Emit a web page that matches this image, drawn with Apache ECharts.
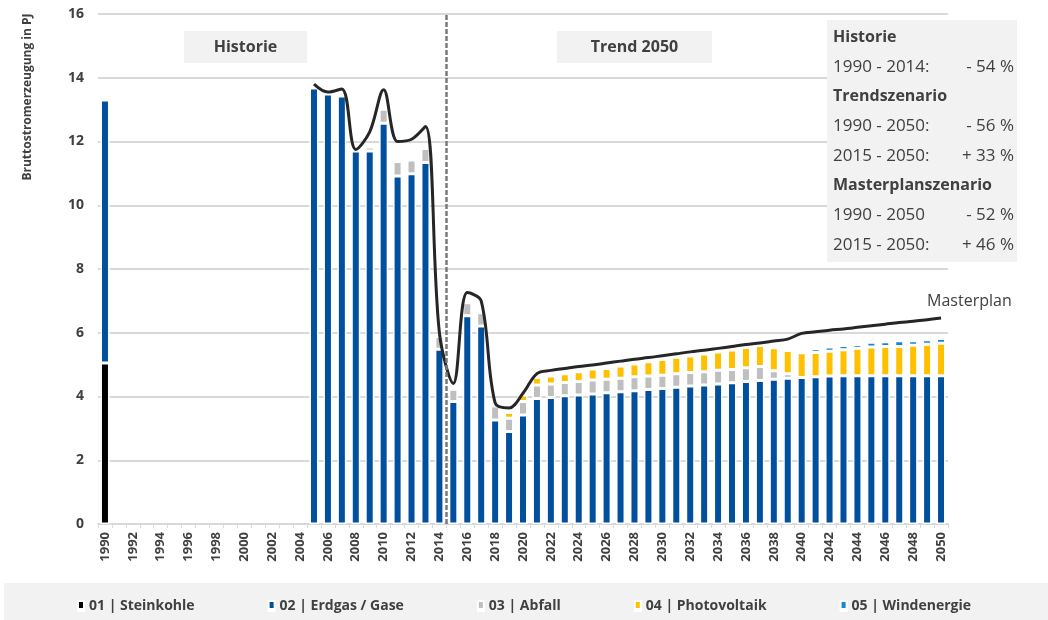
<!DOCTYPE html>
<html>
<head>
<meta charset="utf-8">
<script src="https://cdn.jsdelivr.net/npm/echarts@6/dist/echarts.min.js"></script>
<style>
  html, body { margin: 0; padding: 0; background: #fff; }
  #chart { width: 1048px; height: 620px; }
</style>
</head>
<body>
<div id="chart"></div>
<script>
// Jahre 1990 - 2050
const years = [
  '1990','1991','1992','1993','1994','1995','1996','1997','1998','1999',
  '2000','2001','2002','2003','2004','2005','2006','2007','2008','2009',
  '2010','2011','2012','2013','2014','2015','2016','2017','2018','2019',
  '2020','2021','2022','2023','2024','2025','2026','2027','2028','2029',
  '2030','2031','2032','2033','2034','2035','2036','2037','2038','2039',
  '2040','2041','2042','2043','2044','2045','2046','2047','2048','2049',
  '2050'
]
const _ = null
// Bruttostromerzeugung in PJ
const steinkohle = [5.05, _,_,_,_,_,_,_,_,_,_,_,_,_,_,
  _,_,_,_,_,_,_,_,_,_, _,_,_,_,_,_,_,_,_,_,_,_,_,_,_,_,_,_,_,_,_,_,_,_,_,_,_,_,_,_,_,_,_,_,_,_]
const erdgas = [8.25, _,_,_,_,_,_,_,_,_,_,_,_,_,_,
  13.68, 13.49, 13.43, 11.70, 11.70, 12.57, 10.92, 10.99, 11.34, 5.48,
  3.84, 6.53, 6.21, 3.26, 2.90, 3.42, 3.94, 3.97, 4.02, 4.05,
  4.08, 4.12, 4.15, 4.18, 4.22, 4.25, 4.29, 4.33, 4.36, 4.39,
  4.43, 4.47, 4.50, 4.54, 4.57, 4.60, 4.62, 4.64, 4.65, 4.65,
  4.65, 4.65, 4.65, 4.65, 4.65, 4.65]
const abfall = [_, _,_,_,_,_,_,_,_,_,_,_,_,_,_,
  _, _, _, _, 0.13, 0.44, 0.45, 0.43, 0.44, 0.40,
  0.39, 0.41, 0.42, 0.44, 0.42, 0.42, 0.42, 0.42, 0.42, 0.42,
  0.44, 0.42, 0.42, 0.44, 0.42, 0.42, 0.42, 0.42, 0.42, 0.43,
  0.42, 0.43, 0.44, 0.27, 0.14, _, _, _, _, _,
  _, _, _, _, _, _]
const photovoltaik = [_, _,_,_,_,_,_,_,_,_,_,_,_,_,_,
  _, _, _, _, _, _, _, _, _, _,
  _, 0.06, 0.07, 0.10, 0.18, 0.21, 0.24, 0.25, 0.27, 0.31,
  0.34, 0.34, 0.39, 0.40, 0.45, 0.49, 0.52, 0.52, 0.55, 0.58,
  0.61, 0.64, 0.66, 0.72, 0.73, 0.77, 0.76, 0.78, 0.82, 0.86,
  0.90, 0.92, 0.92, 0.96, 0.99, 1.02]
const windenergie = [_, _,_,_,_,_,_,_,_,_,_,_,_,_,_,
  _, _, _, _, _, _, _, _, _, _,
  _, _, _, 0.05, 0.08, _, _, _, _, _,
  _, _, _, _, _, _, _, _, _, _,
  _, _, _, 0.06, 0.08, 0.10, 0.12, 0.13, 0.13, 0.12,
  0.15, 0.15, 0.18, 0.14, 0.14, 0.15]
const masterplan = [_, _,_,_,_,_,_,_,_,_,_,_,_,_,_,
  13.80, 13.55, 13.65, 11.75, 12.30, 13.62, 12.00, 12.07, 12.47, 6.00,
  4.41, 7.26, 7.00, 3.80, 3.64, 4.10, 4.72, 4.82, 4.88, 4.94,
  4.99, 5.05, 5.11, 5.17, 5.22, 5.28, 5.34, 5.40, 5.45, 5.51,
  5.57, 5.63, 5.68, 5.74, 5.80, 5.98, 6.03, 6.08, 6.12, 6.17,
  6.22, 6.27, 6.32, 6.36, 6.41, 6.46]
const yTicks = [0, 16, 2]   // min, max, interval
const splitIndex = 24.5     // Grenze Historie / Trend (zwischen 2014 und 2015)

const textColor = '#404040'
const font = "'Open Sans', 'Noto Sans', sans-serif"

const colors = {
  steinkohle: '#000000',
  erdgas: '#00509e',
  abfall: '#bfbfbf',
  photovoltaik: '#ffc000',
  windenergie: '#1487d0'
}

const chart = echarts.init(document.getElementById('chart'))

function barSeries(name, data, color) {
  return {
    name: name,
    type: 'bar',
    stack: 'total',
    barWidth: 9,
    data: data,
    itemStyle: { color: color, borderColor: '#fff', borderWidth: 1.5 },
    emphasis: { disabled: true }
  }
}

// Textkasten rechts oben
const infoRows = [
  ['Historie', '', true],
  ['1990 - 2014:', '- 54 %', false],
  ['Trendszenario', '', true],
  ['1990 - 2050:', '- 56 %', false],
  ['2015 - 2050:', '+ 33 %', false],
  ['Masterplanszenario', '', true],
  ['1990 - 2050', '- 52 %', false],
  ['2015 - 2050:', '+ 46 %', false]
]
const infoTexts = []
infoRows.forEach((r, i) => {
  const y = 37 + i * 29.7
  infoTexts.push({
    type: 'text', x: 833, y: y, z: 20,
    style: { text: r[0], fill: textColor, font: (r[2] ? 'bold 16px ' : '17px ') + font, align: 'left', verticalAlign: 'middle' }
  })
  if (r[1]) {
    infoTexts.push({
      type: 'text', x: 1014, y: y, z: 20,
      style: { text: r[1], fill: textColor, font: '17px ' + font, align: 'right', verticalAlign: 'middle' }
    })
  }
})

chart.setOption({
  animation: false,
  grid: { left: 98, right: 100, top: 14, bottom: 96 },
  legend: {
    data: ['01 | Steinkohle', '02 | Erdgas / Gase', '03 | Abfall', '04 | Photovoltaik', '05 | Windenergie'],
    top: 594,
    left: 'center',
    itemGap: 73,
    itemWidth: 6,
    itemHeight: 10,
    icon: 'path://M0,0H6V8H0Z M0,9H6V10H0Z',
    textStyle: { color: textColor, fontWeight: 'bold', fontSize: 14, fontFamily: font }
  },
  graphic: [
    { type: 'rect', shape: { x: 4, y: 583, width: 1044, height: 37 }, style: { fill: '#f2f2f2' }, z: -10 },
    { type: 'rect', shape: { x: 184, y: 31, width: 123, height: 32 }, style: { fill: '#f2f2f2' }, z: -1 },
    { type: 'text', x: 245.5, y: 47, style: { text: 'Historie', fill: textColor, font: 'bold 16px ' + font, align: 'center', verticalAlign: 'middle' }, z: 10 },
    { type: 'rect', shape: { x: 557, y: 31, width: 155, height: 32 }, style: { fill: '#f2f2f2' }, z: -1 },
    { type: 'text', x: 634.5, y: 47, style: { text: 'Trend 2050', fill: textColor, font: 'bold 16px ' + font, align: 'center', verticalAlign: 'middle' }, z: 10 },
    { type: 'rect', shape: { x: 827, y: 20, width: 190, height: 242 }, style: { fill: '#f2f2f2' }, z: 5 }
  ].concat(infoTexts).concat([
    { type: 'text', x: 28, y: 97, rotation: Math.PI / 2,
      style: { text: 'Bruttostromerzeugung in PJ', fill: textColor, font: 'bold 12px ' + font, align: 'center', verticalAlign: 'middle' } }
  ]),
  xAxis: [{
    type: 'category',
    data: years,
    axisLine: { lineStyle: { color: '#d9d9d9', width: 2 } },
    axisTick: { show: true, interval: 0, length: 4, lineStyle: { color: '#d9d9d9', width: 1 } },
    axisLabel: { interval: 1, rotate: 90, color: textColor, fontWeight: 'bold', fontSize: 13, fontFamily: font, margin: 8 },
    splitLine: { show: false }
  }, {
    type: 'value',
    min: -0.5,
    max: 60.5,
    show: false
  }],
  yAxis: {
    type: 'value',
    min: yTicks[0],
    max: yTicks[1],
    interval: yTicks[2],
    axisLine: { show: false },
    axisTick: { show: false },
    axisLabel: { color: textColor, fontWeight: 'bold', fontSize: 14, fontFamily: font, margin: 14 },
    splitLine: { lineStyle: { color: '#d9d9d9', width: 2 } }
  },
  series: [
    barSeries('01 | Steinkohle', steinkohle, colors.steinkohle),
    barSeries('02 | Erdgas / Gase', erdgas, colors.erdgas),
    barSeries('03 | Abfall', abfall, colors.abfall),
    barSeries('04 | Photovoltaik', photovoltaik, colors.photovoltaik),
    barSeries('05 | Windenergie', windenergie, colors.windenergie),
    {
      name: 'Masterplan',
      type: 'line',
      data: masterplan,
      smooth: 0.35,
      symbol: 'none',
      lineStyle: { color: '#262626', width: 3 },
      z: 4,
      endLabel: {
        show: true,
        formatter: 'Masterplan',
        color: textColor,
        fontSize: 16,
        fontFamily: font,
        offset: [-22, -17]
      }
    },
    {
      name: 'grenze',
      type: 'line',
      xAxisIndex: 1,
      data: [],
      markLine: {
        silent: true,
        symbol: 'none',
        label: { show: false },
        lineStyle: { color: '#7a7a7a', type: [5, 2], width: 2.5 },
        data: [{ xAxis: splitIndex }]
      }
    }
  ]
})
</script>
</body>
</html>
